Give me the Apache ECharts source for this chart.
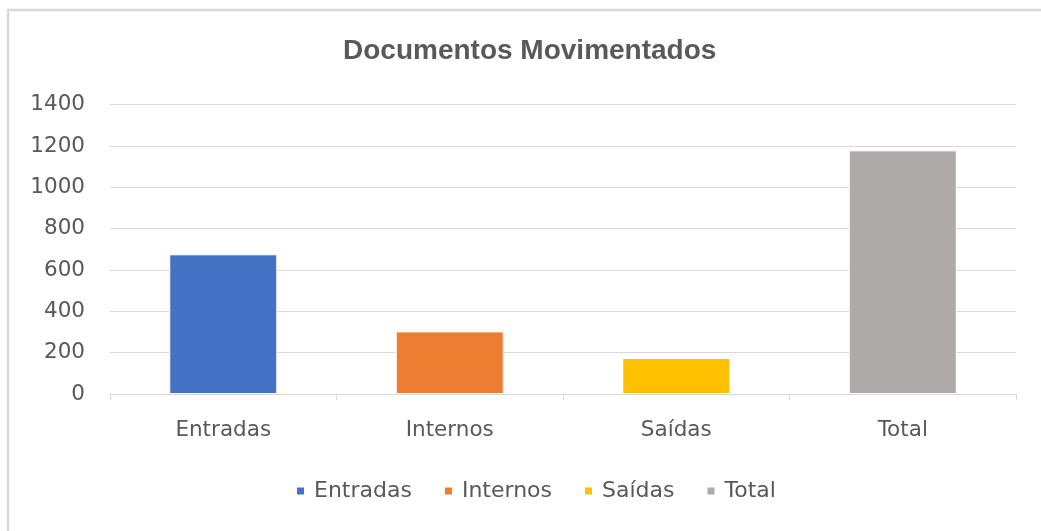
<!DOCTYPE html>
<html>
<head>
<meta charset="utf-8">
<script src="https://cdn.jsdelivr.net/npm/echarts@6/dist/echarts.min.js"></script>
<style>
html,body{margin:0;padding:0;background:#fff;}
#c{width:1041px;height:531px;}
</style>
</head>
<body>
<div id="c"></div>
<script>
const titleText = 'Documentos Movimentados';
const categories = ['Entradas', 'Internos', 'Saídas', 'Total'];
const values = [676, 303, 174, 1179];
const colors = ['#4472C4', '#ED7D31', '#FFC000', '#AEAAAA'];
const yTicks = { min: 0, max: 1400, interval: 200 };

const chart = echarts.init(document.getElementById('c'), null, { renderer: 'canvas' });
const textColor = '#595959';
const fam = '"DejaVu Sans", sans-serif';

const series = categories.map((name, i) => ({
  name: name,
  type: 'bar',
  stack: 'one',
  barWidth: 108,
  data: categories.map((c, j) => (j === i ? values[i] : '-')),
  itemStyle: { color: colors[i], borderColor: '#ffffff', borderWidth: 1 }
}));

chart.setOption({
  animation: false,
  backgroundColor: '#ffffff',
  color: colors,
  graphic: [{
    type: 'rect',
    shape: { x: 8, y: 10, width: 1100, height: 600 },
    style: { fill: 'none', stroke: '#d9d9d9', lineWidth: 2.5 },
    silent: true
  }],
  title: {
    text: titleText,
    left: 343,
    top: 37,
    padding: 0,
    textStyle: { fontFamily: '"Liberation Sans", Arial, sans-serif', fontWeight: 'bold', fontSize: 28, color: textColor }
  },
  legend: {
    data: categories,
    left: 295,
    top: 480,
    padding: 0,
    icon: 'rect',
    itemWidth: 9,
    itemHeight: 9,
    itemGap: 31,
    textStyle: { fontFamily: fam, fontSize: 22, color: textColor, padding: [0, 0, 0, 4] }
  },
  grid: { left: 110, right: 25, top: 104.7, bottom: 137, containLabel: false },
  xAxis: {
    type: 'category',
    data: categories,
    axisLine: { lineStyle: { color: '#d9d9d9', width: 1 } },
    axisTick: { show: true, length: 6, lineStyle: { color: '#d9d9d9' } },
    axisLabel: { fontFamily: fam, fontSize: 21.5, color: textColor, margin: 25 }
  },
  yAxis: {
    type: 'value',
    min: yTicks.min,
    max: yTicks.max,
    interval: yTicks.interval,
    axisLine: { show: false },
    axisTick: { show: false },
    splitLine: { lineStyle: { color: '#d9d9d9', width: 1 } },
    axisLabel: { fontFamily: fam, fontSize: 21.5, color: textColor, margin: 25, formatter: v => String(v) }
  },
  series: series
});
</script>
</body>
</html>
